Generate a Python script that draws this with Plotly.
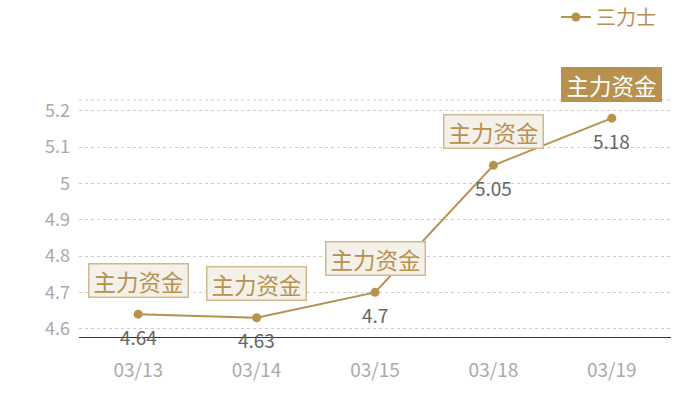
import plotly.graph_objects as go

dates = ["03/13", "03/14", "03/15", "03/18", "03/19"]
values = [4.64, 4.63, 4.70, 5.05, 5.18]
value_labels = ["4.64", "4.63", "4.7", "5.05", "5.18"]
series_name = "三力士"
tag_text = "主力资金"
y_ticks = [4.6, 4.7, 4.8, 4.9, 5.0, 5.1, 5.2]
y_tick_labels = ["4.6", "4.7", "4.8", "4.9", "5", "5.1", "5.2"]

gold = "#b8914f"
FONT = "Noto Sans CJK SC"

fig = go.Figure()
fig.add_trace(go.Scatter(
    x=dates, y=values, name=series_name, mode="lines+markers",
    line=dict(color=gold, width=2),
    marker=dict(color=gold, size=9),
))

for i, (d, v, lab) in enumerate(zip(dates, values, value_labels)):
    last = i == len(dates) - 1
    fig.add_annotation(
        x=d, y=v, text=lab, showarrow=False, yshift=-22,
        font=dict(size=19, color="#666666", family=FONT),
    )
    fig.add_annotation(
        x=d, y=v, text=tag_text, showarrow=False, yshift=34,
        width=94, height=28, align="center", valign="middle",
        font=dict(size=22.5, color="#ffffff" if last else gold, family=FONT),
        bgcolor=gold if last else "#f4f0ea",
        bordercolor=gold if last else "#d2b88e", borderwidth=1.5, borderpad=2,
    )

fig.add_shape(type="line", xref="paper", yref="paper", x0=0, x1=1, y0=1, y1=1,
              line=dict(color="#cccccc", width=1, dash="dot"))

fig.update_layout(
    width=700, height=400,
    margin=dict(l=79, r=29, t=100, b=63, autoexpand=False),
    paper_bgcolor="white", plot_bgcolor="white",
    font=dict(family=FONT),
    showlegend=True,
    legend=dict(x=0.983, xanchor="right", y=1.35, yanchor="middle",
                font=dict(size=20, color=gold, family=FONT),
                bgcolor="rgba(0,0,0,0)", itemwidth=30),
    xaxis=dict(type="category", range=[-0.5, len(dates) - 0.5],
               showgrid=False, zeroline=False,
               showline=True, linecolor="#333333", linewidth=1,
               ticks="", tickfont=dict(size=19, color="#aaaaaa", family=FONT),
               ticklabelstandoff=16, automargin=False),
    yaxis=dict(range=[4.577, 5.23], tickvals=y_ticks, ticktext=y_tick_labels,
               showgrid=True, gridcolor="#cccccc", griddash="dot", gridwidth=1,
               zeroline=False, showline=False, ticks="",
               tickfont=dict(size=18, color="#aaaaaa", family=FONT),
               ticklabelstandoff=8, automargin=False),
)

fig.write_html("out.html", config={"displayModeBar": False},
               post_script="document.body.style.margin='0px';")
